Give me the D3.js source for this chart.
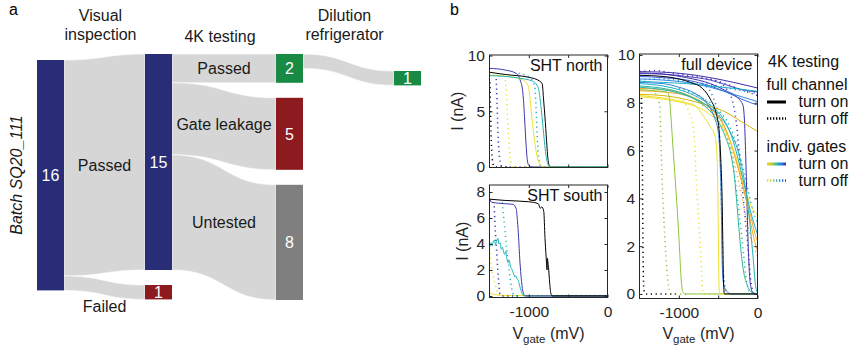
<!DOCTYPE html>
<html>
<head>
<meta charset="utf-8">
<script src="https://cdn.jsdelivr.net/npm/d3@7"></script>
<style>
  body { margin: 0; background: #fff; }
  svg { display: block; font-family: "Liberation Sans", Arial, sans-serif; }
</style>
</head>
<body>
<svg id="fig" width="849" height="352"></svg>
<script>
// ---------- panel a : sample flow ----------
const stageNames = [['Visual', 'inspection'], ['4K testing'], ['Dilution', 'refrigerator']];
const nodeCounts = [16, 15, 1, 2, 5, 8, 1];
const nodeCol    = [0, 1, 1, 2, 2, 2, 3];
const nodeKind   = ['batch', 'batch', 'fail', 'pass', 'fail', 'untested', 'pass'];
const linkFrom   = [0, 0, 1, 1, 1, 3];
const linkTo     = [1, 2, 3, 4, 5, 6];
const linkCounts = [15, 1, 2, 5, 8, 1];
const linkNames  = ['Passed', 'Failed', 'Passed', 'Gate leakage', 'Untested', ''];
const batchName  = 'Batch SQ20_111';

// ---------- panel b : I(V) sweeps, [colour, sweep, points [mV, nA]] ----------
const vTicks = [-1000, -500, 0];

const northCurves = [
  ['#000000', 'off', [[-1495,7.6],[-1488,5.5],[-1480,3],[-1468,1],[-1450,0.15],[-1430,0],[-1250,0]]],
  ['#3b38a8', 'off', [[-1415,7.9],[-1405,6],[-1397,4],[-1388,2.4],[-1372,0.8],[-1350,0.1],[-1320,0],[-950,0]]],
  ['#efe02a', 'off', [[-1300,7.8],[-1285,6.5],[-1275,5],[-1262,3.2],[-1245,1.5],[-1225,0.3],[-1200,0],[-1000,0]]],
  ['#22b5b8', 'off', [[-1130,8.4],[-1000,8.1],[-925,7.2],[-910,5.6],[-900,3.8],[-888,2],[-870,0.6],[-845,0.05],[-820,0],[0,0]]],
  ['#000000', 'on',  [[-1500,8.5],[-1300,8.3],[-1000,8.05],[-860,7.7],[-830,7.45],[-812,6],[-795,4.5],[-775,2.4],[-755,0.6],[-735,0.08],[-700,0],[0,0]]],
  ['#3b38a8', 'on',  [[-1500,8.85],[-1300,8.7],[-1160,8.4],[-1110,7.8],[-1075,6.6],[-1055,4.5],[-1040,2.6],[-1025,1],[-1005,0.2],[-970,0.02],[-940,0],[0,0]]],
  ['#efe02a', 'on',  [[-1500,8.25],[-1300,8.15],[-1100,7.9],[-1010,7.3],[-980,5.8],[-960,4.3],[-935,2.8],[-905,1.3],[-870,0.35],[-830,0.05],[-800,0],[0,0]]],
  ['#22b5b8', 'on',  [[-1500,8.2],[-1150,8.0],[-950,7.7],[-880,7.1],[-852,5.8],[-832,4.5],[-812,3],[-792,1.6],[-765,0.4],[-735,0.04],[-710,0],[0,0]]]
];

const southCurves = [
  ['#efe02a', 'on',  [[-1500,0.25],[-1460,0.15],[-1400,0.08],[-1300,0.04],[-1100,0.03],[0,0.03]]],
  ['#8cc43c', 'off', [[-1080,0.03],[0,0.03]]],
  ['#efe02a', 'off', [[-1500,3.7],[-1490,3.0],[-1470,2.0],[-1440,1.2],[-1410,0.5],[-1380,0.1],[-1330,0],[-1200,0]]],
  ['#3b38a8', 'off', [[-1440,6.9],[-1430,5.5],[-1415,4],[-1400,2.5],[-1385,1.2],[-1370,0.25],[-1345,0],[-1100,0]]],
  ['#22b5b8', 'off', [[-1338,7.2],[-1322,6.2],[-1302,5.0],[-1282,3.7],[-1257,2.3],[-1232,1.1],[-1212,0.4],[-1190,0.05],[-1150,0]]],
  ['#22b5b8', 'on',  [[-1500,3.75],[-1490,3.9],[-1479,4.1],[-1465,3.85],[-1450,4.25],[-1436,4.3],[-1425,3.95],[-1410,4.2],[-1393,4.45],[-1380,4.0],[-1365,4.1],[-1350,3.6],[-1335,3.75],[-1320,3.35],[-1307,3.2],[-1295,3.45],[-1280,2.9],[-1263,2.55],[-1250,2.75],[-1235,2.3],[-1220,2.1],[-1205,1.9],[-1190,1.65],[-1177,1.45],[-1165,1.55],[-1150,1.3],[-1134,1.2],[-1120,0.85],[-1105,0.55],[-1091,0.26],[-1075,0.08],[-1056,0],[0,0]]],
  ['#3b38a8', 'on',  [[-1500,7.5],[-1470,7.2],[-1300,7.1],[-1200,7.05],[-1160,6.7],[-1145,5.8],[-1130,4.5],[-1115,2.8],[-1100,1.6],[-1085,0.7],[-1060,0.1],[-1040,0],[0,0]]],
  ['#000000', 'on',  [[-1500,7.45],[-1300,7.35],[-1000,7.25],[-880,7.1],[-855,6.75],[-835,6.85],[-810,6.5],[-795,4.5],[-780,3.0],[-768,2.0],[-764,2.9],[-758,2.6],[-750,2.2],[-735,1.0],[-720,0.2],[-700,0],[0,0]]]
];

const fullCurves = [
  ['#000000', 'off', [[-1475,8.2],[-1466,6.5],[-1461,4.5],[-1457,2.5],[-1452,1],[-1445,0.2],[-1430,0.02],[-1410,0],[-1000,0]]],
  ['#8cc43c', 'off', [[-1300,8.4],[-1250,8.0],[-1235,7.4],[-1228,6.5],[-1215,5],[-1200,3.8],[-1185,2.8],[-1165,1.6],[-1140,0.6],[-1115,0.1],[-1090,0],[-900,0]]],
  ['#efe02a', 'off', [[-950,8.1],[-870,7.6],[-820,7.0],[-800,6.4],[-785,5.2],[-765,4.0],[-745,3.0],[-725,1.8],[-710,0.8],[-698,0.15],[-680,0],[-500,0]]],
  ['#3a80d8', 'off', [[-700,8.8],[-560,8.2],[-500,7.4],[-475,6],[-462,4.5],[-452,3],[-442,1.6],[-425,0.6],[-400,0.15],[-360,0.02],[-330,0],[0,0]]],
  ['#4a3fc0', 'off', [[-600,9.0],[-400,8.6],[-320,8.1],[-270,7.2],[-240,6.2],[-215,5.2],[-190,4.3],[-160,3.3],[-135,2.5],[-110,1.5],[-90,0.7],[-65,0.2],[-40,0.02],[0,0]]],
  ['#2db59a', 'off', [[-800,8.4],[-600,7.9],[-450,7.2],[-360,6.3],[-300,5.2],[-260,4.1],[-230,3.3],[-200,2.4],[-175,1.6],[-150,0.8],[-125,0.3],[-95,0.05],[-70,0],[0,0]]],
  ['#f8a828', 'off', [[-700,7.9],[-500,7.3],[-380,6.5],[-300,5.6],[-240,4.7],[-190,3.9],[-140,3.1],[-90,2.4],[-40,1.9],[0,1.6]]],
  ['#18b0c8', 'off', [[-1000,8.6],[-700,8.2],[-500,7.7],[-350,7.0],[-250,6.1],[-170,5.1],[-110,4.2],[-60,3.5],[0,3.0]]],
  ['#4a3fc0', 'off', [[-1500,9.3],[-1300,9.35],[-1100,9.25],[-800,9.1],[-500,8.9],[-250,8.6],[0,8.3]]],
  ['#2e90dc', 'off', [[-1500,8.95],[-1200,9.0],[-800,8.85],[-500,8.7],[-200,8.5],[0,8.4]]],
  ['#3e2fa8', 'on',  [[-1500,9.3],[-1200,9.28],[-900,9.2],[-600,9.05],[-300,8.85],[0,8.62]]],
  ['#4a3fc0', 'on',  [[-1500,9.22],[-1200,9.2],[-900,9.1],[-600,8.95],[-400,8.75],[-200,8.55],[0,8.45]]],
  ['#3e2fa8', 'on',  [[-1500,9.25],[-1200,9.2],[-900,9.05],[-600,8.8],[-400,8.5],[-250,8.2],[-185,7.9],[-165,7.2],[-150,5.8],[-135,4],[-120,2.2],[-105,1],[-85,0.3],[-60,0.05],[-40,0],[0,0]]],
  ['#3a60d8', 'on',  [[-1500,9.1],[-1200,9.05],[-900,8.95],[-600,8.7],[-400,8.45],[-200,8.15],[0,7.9]]],
  ['#2e87e0', 'on',  [[-1500,9.0],[-1200,8.95],[-900,8.85],[-600,8.65],[-300,8.35],[0,8.05]]],
  ['#18b0c8', 'on',  [[-1500,8.9],[-1200,8.85],[-900,8.8],[-600,8.7],[-300,8.6],[0,8.48]]],
  ['#d8b400', 'on',  [[-1500,8.35],[-1200,8.3],[-1000,8.2],[-800,8.05],[-600,7.85],[-400,7.6],[-200,7.2],[0,6.8]]],
  ['#f8a828', 'on',  [[-1500,8.6],[-1200,8.55],[-1000,8.45],[-800,8.2],[-650,7.9],[-500,7.45],[-380,6.7],[-280,5.7],[-200,4.7],[-130,3.7],[-70,2.7],[-20,2.0],[0,1.8]]],
  ['#f8a828', 'on',  [[-1500,8.5],[-1200,8.45],[-900,8.3],[-700,8.0],[-550,7.6],[-420,7.0],[-320,6.1],[-240,5.2],[-160,4.2],[-90,3.3],[-30,2.5],[0,2.2]]],
  ['#efe02a', 'on',  [[-1500,8.25],[-1200,8.15],[-950,8.0],[-750,7.8],[-600,7.5],[-450,7.0],[-350,6.4],[-250,5.5],[-150,4.3],[-70,3.6],[0,3.3]]],
  ['#18b0c8', 'on',  [[-1500,8.8],[-1200,8.7],[-1000,8.55],[-800,8.3],[-600,7.9],[-450,7.4],[-330,6.6],[-250,5.7],[-170,4.6],[-100,3.6],[-50,3.0],[0,2.5]]],
  ['#28b4b0', 'on',  [[-1500,8.65],[-1000,8.4],[-700,8.0],[-500,7.5],[-350,6.8],[-250,6.0],[-170,4.8],[-120,3.6],[-80,2.4],[-50,1.3],[-30,0.5],[-10,0.1],[0,0.05]]],
  ['#2db59a', 'on',  [[-1500,8.7],[-1200,8.6],[-1000,8.45],[-800,8.15],[-650,7.8],[-500,7.2],[-400,6.5],[-330,5.7],[-290,4.8],[-260,3.7],[-235,2.7],[-210,1.8],[-180,1.0],[-140,0.45],[-100,0.15],[-60,0.03],[-40,0],[0,0]]],
  ['#8cc43c', 'on',  [[-1500,8.55],[-1300,8.5],[-1150,8.45],[-1120,8.2],[-1100,7.4],[-1080,6.4],[-1040,4.5],[-1010,3],[-990,1.8],[-970,0.6],[-950,0.1],[-920,0],[0,0]]],
  ['#efe02a', 'on',  [[-1500,8.3],[-1200,8.2],[-900,8.0],[-800,7.9],[-700,7.5],[-600,7.0],[-540,6.6],[-515,5.8],[-505,4.5],[-498,2.5],[-492,0.8],[-485,0.1],[-470,0],[0,0]]],
  ['#3a80d8', 'on',  [[-1500,8.85],[-1200,8.8],[-1000,8.65],[-800,8.4],[-650,8.0],[-550,7.4],[-500,6.8],[-475,5.5],[-462,4],[-455,2.5],[-448,1.2],[-435,0.5],[-410,0.2],[-370,0.05],[-340,0],[0,0]]],
  ['#000000', 'on',  [[-1500,9.15],[-1200,9.1],[-1000,9.0],[-850,8.85],[-700,8.6],[-600,8.15],[-530,7.6],[-490,6.9],[-465,5.5],[-450,4],[-440,2],[-432,0.5],[-420,0],[0,0]]]
];

const legendTitle = '4K testing';
const legendGroups = ['full channel', 'indiv. gates'];
const legendItems = ['turn on', 'turn off'];

// ---------- drawing ----------
const svg = d3.select('#fig');
const ink = '#262626';

// panel letters
svg.append('text').attr('x', 9).attr('y', 15).attr('font-size', 16).text('a');
svg.append('text').attr('x', 450).attr('y', 15).attr('font-size', 16).text('b');

// sankey layout
const kindColor = { batch: '#292d78', fail: '#8c1a1f', pass: '#198a43', untested: '#7f7f7f' };
const colX = d3.scaleOrdinal().domain([0, 1, 2, 3]).range([37, 145, 276, 394]);
const nodeW = 27;
const unit = d3.scaleLinear().domain([0, 16]).range([0, 230.4]);
const colTop = [60, 54, 54, 71];
const nodePad = 15;

const nodes = nodeCounts.map((v, i) => ({ i, v, col: nodeCol[i], kind: nodeKind[i] }));
[0, 1, 2, 3].forEach(c => {
  let y = colTop[c];
  nodes.filter(n => n.col === c).forEach(n => {
    n.x0 = colX(c); n.x1 = n.x0 + nodeW;
    n.y0 = y; n.y1 = y + unit(n.v);
    n.out = n.y0; n.in = n.y0;
    y = n.y1 + nodePad;
  });
});
const links = linkCounts.map((v, i) => {
  const s = nodes[linkFrom[i]], t = nodes[linkTo[i]];
  const l = { v, name: linkNames[i], x0: s.x1, x1: t.x0,
    sy0: s.out, sy1: s.out + unit(v), ty0: t.in, ty1: t.in + unit(v) };
  s.out = l.sy1; t.in = l.ty1;
  return l;
});

function ribbon(l) {
  const p = d3.path(), xm = (l.x0 + l.x1) / 2;
  p.moveTo(l.x0, l.sy0);
  p.bezierCurveTo(xm, l.sy0, xm, l.ty0, l.x1, l.ty0);
  p.lineTo(l.x1, l.ty1);
  p.bezierCurveTo(xm, l.ty1, xm, l.sy1, l.x0, l.sy1);
  p.closePath();
  return p.toString();
}

const ga = svg.append('g');
ga.selectAll('path.link').data(links).join('path')
  .attr('class', 'link')
  .attr('d', ribbon)
  .attr('fill', '#d6d6d6')
  .attr('stroke', '#fff').attr('stroke-width', 0.6);

ga.selectAll('rect.node').data(nodes).join('rect')
  .attr('class', 'node')
  .attr('x', d => d.x0).attr('y', d => d.y0)
  .attr('width', nodeW).attr('height', d => d.y1 - d.y0)
  .attr('fill', d => kindColor[d.kind]);

ga.selectAll('text.nodeval').data(nodes).join('text')
  .attr('class', 'nodeval')
  .attr('x', d => (d.x0 + d.x1) / 2)
  .attr('y', d => (d.y0 + d.y1) / 2)
  .attr('dy', '0.36em')
  .attr('text-anchor', 'middle')
  .attr('font-size', 16).attr('fill', '#fff')
  .text(d => d.v);

const labelShift = [0, 19, 0, -2, -5, 0];
ga.selectAll('text.linkname').data(links).join('text')
  .attr('class', 'linkname')
  .attr('x', d => (d.x0 + d.x1) / 2)
  .attr('y', (d, i) => (d.sy0 + d.sy1 + d.ty0 + d.ty1) / 4 + labelShift[i])
  .attr('dy', '0.36em')
  .attr('text-anchor', 'middle')
  .attr('font-size', 16).attr('fill', '#1a1a1a')
  .text(d => d.name);

// stage headers above the gaps between columns
stageNames.forEach((lines, c) => {
  const cx = (colX(c) + nodeW + colX(c + 1)) / 2 - 4;
  const t = ga.append('text').attr('text-anchor', 'middle').attr('font-size', 16).attr('fill', '#1a1a1a');
  const base = lines.length === 2 ? 20.5 : 41.5;
  lines.forEach((s, k) => t.append('tspan').attr('x', cx).attr('y', base + k * 19).text(s));
});

ga.append('text')
  .attr('transform', 'translate(22,175) rotate(-90)')
  .attr('text-anchor', 'middle')
  .attr('font-size', 16).attr('font-style', 'italic').attr('fill', '#1a1a1a')
  .text(batchName);

// I(V) panels
const vDomain = [-1500, 0];
const panels = [
  { name: 'north', curves: northCurves, title: 'SHT north', left: 489.5, right: 607.5, top: 55, bottom: 167.5,
    yDomain: [-0.05, 10.05], yTicks: [0, 5, 10], xLabels: false, yLabelX: 463 },
  { name: 'south', curves: southCurves, title: 'SHT south', left: 489.5, right: 607.5, top: 185, bottom: 297.5,
    yDomain: [-0.12, 8.54], yTicks: [0, 2, 4, 6, 8], xLabels: true, yLabelX: 467.5 },
  { name: 'full', curves: fullCurves, title: 'full device', left: 639.5, right: 757.5, top: 54, bottom: 298.5,
    yDomain: [-0.19, 10.04], yTicks: [0, 2, 4, 6, 8, 10], xLabels: true, yLabelX: null }
];

function styleAxis(g) {
  g.select('.domain').remove();
  g.attr('font-family', null).attr('font-size', null).attr('color', ink);
  g.selectAll('text').attr('font-size', 15.5).attr('fill', ink);
}

panels.forEach(p => {
  const x = d3.scaleLinear().domain(vDomain).range([p.left, p.right]);
  const y = d3.scaleLinear().domain(p.yDomain).range([p.bottom, p.top]);
  const g = svg.append('g');

  const clipId = 'clip-' + p.name;
  svg.append('clipPath').attr('id', clipId).append('rect')
    .attr('x', p.left).attr('y', p.top)
    .attr('width', p.right - p.left).attr('height', p.bottom - p.top);

  const line = d3.line().x(d => x(d[0])).y(d => y(d[1])).curve(d3.curveMonotoneX);
  g.append('g').attr('clip-path', `url(#${clipId})`)
    .selectAll('path').data(p.curves).join('path')
    .attr('d', d => line(d[2]))
    .attr('fill', 'none')
    .attr('stroke', d => d[0])
    .attr('stroke-width', d => d[1] === 'off' ? 1.5 : 1)
    .attr('stroke-dasharray', d => d[1] === 'off' ? '1.2 3.6' : null);

  const xFmt = d => (p.xLabels && d !== -500) ? String(d) : '';
  g.append('g').attr('transform', `translate(0,${p.bottom})`)
    .call(d3.axisBottom(x).tickValues(vTicks).tickSize(-3).tickPadding(8).tickFormat(xFmt))
    .call(styleAxis);
  g.append('g').attr('transform', `translate(0,${p.top})`)
    .call(d3.axisTop(x).tickValues(vTicks).tickSize(-3).tickFormat(() => ''))
    .call(styleAxis);
  g.append('g').attr('transform', `translate(${p.left},0)`)
    .call(d3.axisLeft(y).tickValues(p.yTicks).tickSize(-3).tickPadding(4.5).tickFormat(d => String(d)))
    .call(styleAxis);
  g.append('g').attr('transform', `translate(${p.right},0)`)
    .call(d3.axisRight(y).tickValues(p.yTicks).tickSize(-3).tickFormat(() => ''))
    .call(styleAxis);

  g.append('rect')
    .attr('x', p.left).attr('y', p.top)
    .attr('width', p.right - p.left).attr('height', p.bottom - p.top)
    .attr('fill', 'none').attr('stroke', ink).attr('stroke-width', 1);

  g.append('text')
    .attr('x', p.right - 5).attr('y', p.top + 16)
    .attr('text-anchor', 'end').attr('font-size', 16).attr('fill', '#111')
    .text(p.title);

  if (p.yLabelX !== null) {
    g.append('text')
      .attr('transform', `translate(${p.yLabelX},${(p.top + p.bottom) / 2}) rotate(-90)`)
      .attr('text-anchor', 'middle').attr('font-size', 16).attr('fill', ink)
      .text('I (nA)');
  }
  if (p.xLabels) {
    const t = g.append('text')
      .attr('x', (p.left + p.right) / 2).attr('y', 338.5)
      .attr('text-anchor', 'middle').attr('font-size', 16).attr('fill', ink);
    t.append('tspan').text('V');
    t.append('tspan').attr('font-size', 11.5).attr('dy', 4).text('gate');
    t.append('tspan').attr('dy', -4).text(' (mV)');
  }
});

// legend
const keyX0 = 767, keyX1 = 786;
const defs = svg.append('defs');
const grad = defs.append('linearGradient').attr('id', 'gates')
  .attr('gradientUnits', 'userSpaceOnUse')
  .attr('x1', keyX0).attr('x2', keyX1).attr('y1', 0).attr('y2', 0);
[['0', '#f2d920'], ['0.3', '#a8c83a'], ['0.55', '#1fb0c0'], ['0.8', '#2f6fe0'], ['1', '#3b2f9c']]
  .forEach(s => grad.append('stop').attr('offset', s[0]).attr('stop-color', s[1]));

const lg = svg.append('g').attr('font-size', 16).attr('fill', '#111');
lg.append('text').attr('x', 768).attr('y', 66.5).text(legendTitle);
legendGroups.forEach((name, gi) => {
  const y0 = gi === 0 ? 89.5 : 151.5;
  lg.append('text').attr('x', 766.5).attr('y', y0).text(name);
  legendItems.forEach((item, k) => {
    const ly = y0 + 12.5 + k * 16.5;
    lg.append('line')
      .attr('x1', keyX0).attr('x2', keyX1).attr('y1', ly).attr('y2', ly)
      .attr('stroke', gi === 0 ? '#000' : 'url(#gates)')
      .attr('stroke-width', k === 0 ? 3 : 2.5)
      .attr('stroke-dasharray', k === 0 ? null : '1.3 1.7');
    lg.append('text').attr('x', 798.5).attr('y', ly + 5).text(item);
  });
});
</script>
</body>
</html>
